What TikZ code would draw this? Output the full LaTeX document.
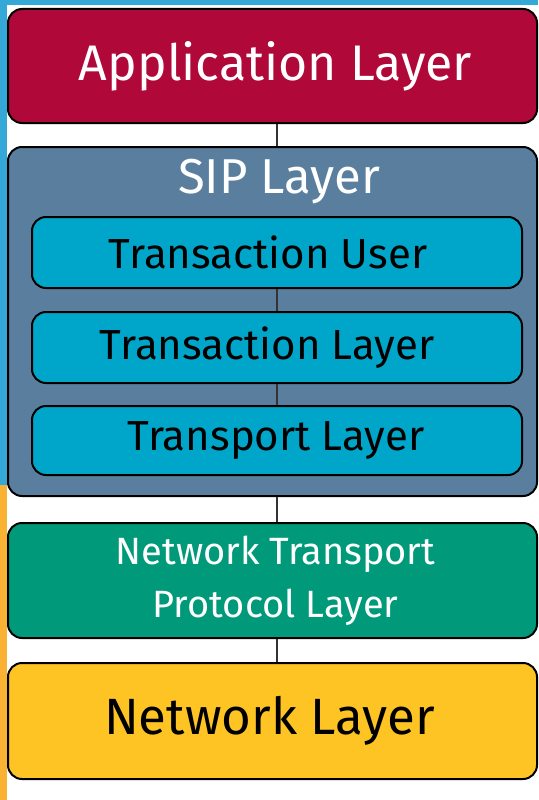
\documentclass[tikz,border=0pt]{standalone}
\usepackage{fontspec}
\setmainfont{Fira Sans}
\definecolor{appred}{HTML}{B00838}
\definecolor{sipblue}{HTML}{5A7F9E}
\definecolor{innercyan}{HTML}{00A6C9}
\definecolor{netgreen}{HTML}{009A7A}
\definecolor{netyellow}{HTML}{FEC423}
\definecolor{stripblue}{HTML}{34A8D6}
\definecolor{striporange}{HTML}{F9B233}
\begin{document}
\begin{tikzpicture}[x=1pt,y=-1pt,
  layerbox/.style={draw=black, line width=2pt, rounded corners=14pt, inner sep=0pt},
  outerbox/.style={layerbox, minimum width=529pt},
  innerbox/.style={layerbox, minimum width=490pt, fill=innercyan, text=black, font=\fontsize{42}{48}\selectfont},
  link/.style={draw=black!80, line width=1.2pt}]
\useasboundingbox (0,0) rectangle (538,800);
\fill[white] (0,0) rectangle (538,800);
\fill[stripblue] (0,0) rectangle (538,5);
\fill[stripblue] (0,0) rectangle (7,485);
\fill[striporange] (0,485) rectangle (7,800);

\node[outerbox, fill=appred, minimum height=114pt, text=white, font=\fontsize{50}{56}\selectfont] (app) at (272.5,66) {\hspace*{6pt}Application Layer};
\node[outerbox, fill=sipblue, minimum height=349pt] (sip) at (272.5,321.5) {};
\node[text=white, font=\fontsize{49}{54}\selectfont] (siptitle) at (279,182) {SIP Layer};
\node[innerbox, minimum height=71pt] (tu) at (277,252.5) {Transaction User\hspace*{18pt}};
\node[innerbox, minimum height=71pt] (tl) at (277,347.5) {Transaction Layer\hspace*{20pt}};
\node[innerbox, minimum height=69pt] (tp) at (277,440.5) {Transport Layer\hspace*{2pt}};
\node[outerbox, fill=netgreen, minimum height=115pt, text=white, font=\fontsize{38}{50}\selectfont] (ntp) at (272.5,580.5) {\hspace*{6pt}\begin{tabular}{@{}c@{}}Network Transport\\[3pt]Protocol Layer\end{tabular}};
\node[outerbox, fill=netyellow, minimum height=116pt, text=black, font=\fontsize{51}{56}\selectfont] (net) at (272.5,721) {Network Layer\hspace*{6pt}};

\draw[link] (app.south -| 277,0) -- (sip.north -| 277,0);
\draw[link] (tu.south) -- (tl.north);
\draw[link] (tl.south) -- (tp.north);
\draw[link] (sip.south -| 277,0) -- (ntp.north -| 277,0);
\draw[link] (ntp.south -| 277,0) -- (net.north -| 277,0);
\end{tikzpicture}
\end{document}
